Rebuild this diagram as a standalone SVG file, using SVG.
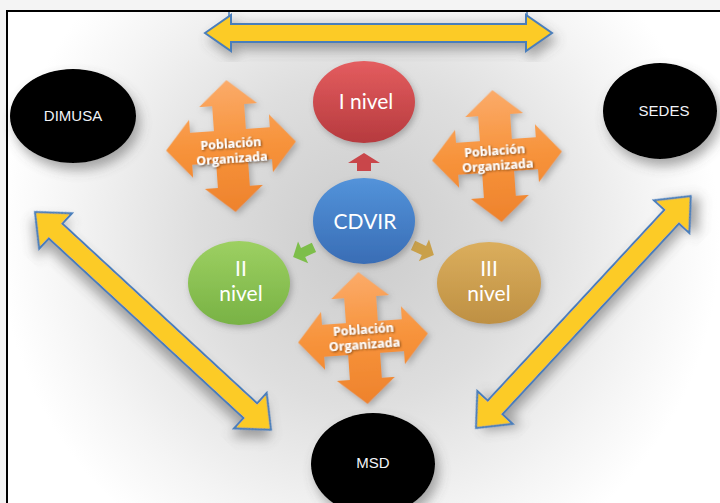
<svg xmlns="http://www.w3.org/2000/svg" width="720" height="503" viewBox="0 0 720 503">
<defs>
<radialGradient id="bg" cx="360" cy="240" r="360" gradientUnits="userSpaceOnUse">
<stop offset="0" stop-color="#cbcbcb"/>
<stop offset="0.45" stop-color="#dedede"/>
<stop offset="0.8" stop-color="#f4f4f4"/>
<stop offset="1" stop-color="#ffffff"/>
</radialGradient>
<linearGradient id="gOrange" x1="0" y1="0" x2="0" y2="1">
<stop offset="0" stop-color="#fbab6a"/>
<stop offset="0.5" stop-color="#f7933b"/>
<stop offset="1" stop-color="#ee822c"/>
</linearGradient>
<linearGradient id="gRed" x1="0" y1="0" x2="0" y2="1">
<stop offset="0" stop-color="#e45d5f"/>
<stop offset="1" stop-color="#b63a3e"/>
</linearGradient>
<linearGradient id="gBlue" x1="0" y1="0" x2="0" y2="1">
<stop offset="0" stop-color="#5393da"/>
<stop offset="1" stop-color="#396db5"/>
</linearGradient>
<linearGradient id="gGreen" x1="0" y1="0" x2="0" y2="1">
<stop offset="0" stop-color="#9dd062"/>
<stop offset="1" stop-color="#78b244"/>
</linearGradient>
<linearGradient id="gGold" x1="0" y1="0" x2="0" y2="1">
<stop offset="0" stop-color="#dbae5d"/>
<stop offset="1" stop-color="#be9043"/>
</linearGradient>
<linearGradient id="gRect" x1="0" y1="0" x2="0" y2="1">
<stop offset="0" stop-color="#f6f6f6"/>
<stop offset="1" stop-color="#e0e0e0"/>
</linearGradient>
<filter id="shadow" x="-30%" y="-30%" width="160%" height="160%">
<feGaussianBlur in="SourceAlpha" stdDeviation="6"/>
<feOffset dx="4" dy="7" result="b"/>
<feFlood flood-color="#555" flood-opacity="0.5"/>
<feComposite in2="b" operator="in"/>
<feMerge><feMergeNode/><feMergeNode in="SourceGraphic"/></feMerge>
</filter>
<filter id="soft" x="-30%" y="-30%" width="160%" height="160%">
<feGaussianBlur in="SourceAlpha" stdDeviation="3"/>
<feOffset dx="2" dy="3" result="b"/>
<feFlood flood-color="#666" flood-opacity="0.45"/>
<feComposite in2="b" operator="in"/>
<feMerge><feMergeNode/><feMergeNode in="SourceGraphic"/></feMerge>
</filter>
<filter id="tshadow" x="-20%" y="-40%" width="140%" height="180%">
<feGaussianBlur in="SourceAlpha" stdDeviation="1"/>
<feOffset dx="1" dy="1" result="b"/>
<feFlood flood-color="#5a3010" flood-opacity="0.8"/>
<feComposite in2="b" operator="in"/>
<feMerge><feMergeNode/><feMergeNode in="SourceGraphic"/></feMerge>
</filter>
<path id="cross" d="M0,-66 L29,-41 L16,-41 L16,-16 L40,-16 L40,-29 L65,0 L40,29 L40,16 L16,16 L16,41 L29,41 L0,66 L-29,41 L-16,41 L-16,16 L-40,16 L-40,29 L-65,0 L-40,-29 L-40,-16 L-16,-16 L-16,-41 L-29,-41 Z"/>
</defs>
<style>
.yel{fill:#fccb26;stroke:#4a7ebb;stroke-width:2;stroke-linejoin:miter}
.blk{fill:#000}
.btxt{font-family:"Liberation Sans",Arial,sans-serif;font-size:15px;fill:#f2f4f8;text-anchor:middle}
.ctxt{font-family:Lato,"Open Sans",sans-serif;fill:#fff;text-anchor:middle}
.otxt{font-family:"Open Sans",Lato,sans-serif;font-weight:700;font-size:12.5px;fill:#fff;text-anchor:middle}
.org{fill:url(#gOrange)}
</style>
<rect x="0" y="0" width="720" height="503" fill="#f4f4f4"/>
<rect x="7" y="11" width="713" height="492" fill="url(#bg)"/>

<g id="connectors">
<rect x="229" y="11" width="298" height="15" fill="url(#gRect)" stroke="#4a7ebb" stroke-width="1.5"/>
<path class="yel" filter="url(#shadow)" transform="translate(205,33)" d="M0,0 L26,-18 L26,-9 L321,-9 L321,-18 L347,0 L321,18 L321,9 L26,9 L26,18 Z"/>
<path class="yel" filter="url(#shadow)" transform="translate(35,212) rotate(42.7)" d="M0,0 L28,-24 L28,-10 L293,-10 L293,-24 L321,0 L293,24 L293,10 L28,10 L28,24 Z"/>
<path class="yel" filter="url(#shadow)" transform="translate(476,428) rotate(-47.2)" d="M0,0 L28,-24 L28,-10 L288,-10 L288,-24 L316,0 L288,24 L288,10 L28,10 L28,24 Z"/>
<path fill="#c9464a" d="M364,153 L380,163 L371,163 L371,171 L357,171 L357,163 L348,163 Z"/>
<path fill="#7dbe4a" transform="translate(304,252) rotate(155)" d="M12,0 L1,-12 L1,-5 L-11,-5 L-11,5 L1,5 L1,12 Z"/>
<path fill="#c9a04a" transform="translate(423,250) rotate(25)" d="M12,0 L1,-12 L1,-5 L-11,-5 L-11,5 L1,5 L1,12 Z"/>
</g>

<g id="po1" transform="translate(231,146) rotate(-4)">
<use href="#cross" class="org" filter="url(#soft)"/>
<g filter="url(#tshadow)"><text class="otxt" x="0" y="2">Población</text><text class="otxt" x="0" y="17">Organizada</text></g>
</g>
<g id="po2" transform="translate(497,156) rotate(-4)">
<use href="#cross" class="org" filter="url(#soft)"/>
<g filter="url(#tshadow)"><text class="otxt" x="-2" y="-1">Población</text><text class="otxt" x="0" y="14">Organizada</text></g>
</g>
<g id="po3" transform="translate(363,338) rotate(-4)">
<use href="#cross" class="org" filter="url(#soft)"/>
<g filter="url(#tshadow)"><text class="otxt" x="1" y="-4">Población</text><text class="otxt" x="1" y="11">Organizada</text></g>
</g>

<g id="dimusa">
<ellipse class="blk" cx="73" cy="116" rx="63" ry="47" filter="url(#shadow)"/>
<text class="btxt" x="73" y="121">DIMUSA</text>
</g>
<g id="sedes">
<ellipse class="blk" cx="660" cy="111" rx="57" ry="48" filter="url(#shadow)"/>
<text class="btxt" x="664" y="116">SEDES</text>
</g>
<g id="msd">
<ellipse class="blk" cx="373" cy="464" rx="62" ry="51" filter="url(#shadow)"/>
<text class="btxt" x="373" y="468">MSD</text>
</g>

<g id="inivel">
<ellipse cx="364" cy="102" rx="51" ry="41" fill="url(#gRed)" filter="url(#soft)"/>
<text class="ctxt" x="366" y="109" font-size="21">I nivel</text>
</g>
<g id="cdvir">
<ellipse cx="364" cy="221" rx="51" ry="43" fill="url(#gBlue)" filter="url(#soft)"/>
<text class="ctxt" x="365" y="229" font-size="21">CDVIR</text>
</g>
<g id="iinivel">
<ellipse cx="239" cy="283" rx="51" ry="42" fill="url(#gGreen)" filter="url(#soft)"/>
<text class="ctxt" x="241" y="276" font-size="21">II</text>
<text class="ctxt" x="241" y="301" font-size="21">nivel</text>
</g>
<g id="iiinivel">
<ellipse cx="489" cy="283" rx="52" ry="41" fill="url(#gGold)" filter="url(#soft)"/>
<text class="ctxt" x="489" y="276" font-size="21">III</text>
<text class="ctxt" x="489" y="301" font-size="21">nivel</text>
</g>

<path d="M7,503 L7,11 L720,11" fill="none" stroke="#000" stroke-width="2"/>
</svg>
